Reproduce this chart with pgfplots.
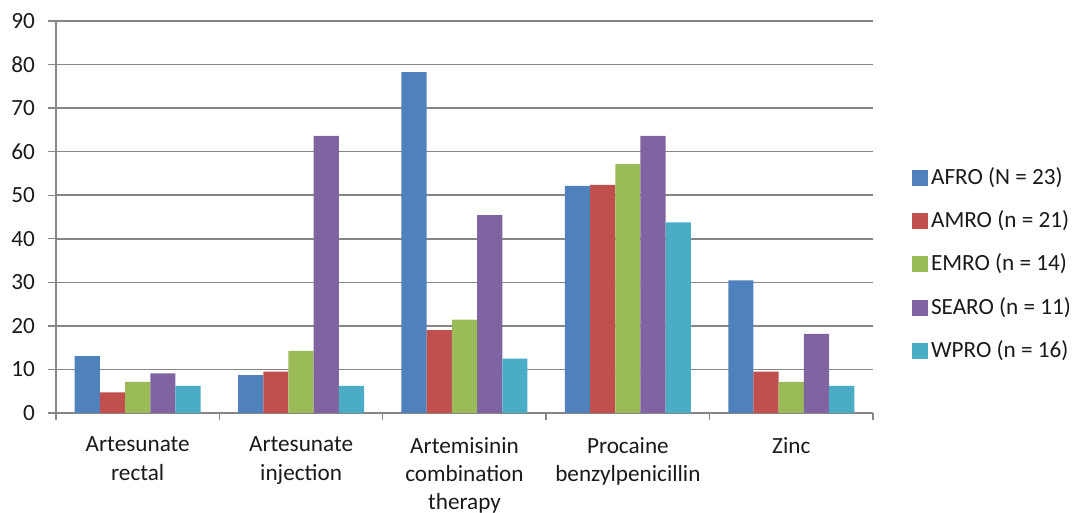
\documentclass[border=0pt]{standalone}
\usepackage{pgfplots}
\pgfplotsset{compat=1.18}
\usepackage{fontspec}
\setmainfont{Carlito}

\definecolor{afro}{HTML}{4F81BD}
\definecolor{amro}{HTML}{C0504D}
\definecolor{emro}{HTML}{9BBB59}
\definecolor{searo}{HTML}{8064A2}
\definecolor{wpro}{HTML}{4BACC6}
\definecolor{axisgray}{HTML}{868686}
\definecolor{txt}{HTML}{1A1A1A}

\begin{document}
\begin{tikzpicture}
\path[use as bounding box] (-28pt,-50pt) rectangle (510pt,206.5pt);
\begin{axis}[
  at={(0,0)}, anchor=south west,
  scale only axis, width=408.5pt, height=196pt,
  ymin=0, ymax=90, ytick={0,10,...,90},
  xmin=-0.5, xmax=4.5,
  xtick={0,...,4},
  xticklabels={{Artesunate\\rectal},{Artesunate\\injection},{Artemisinin\\combination\\therapy},{Procaine\\benzylpenicillin},{Zinc}},
  minor xtick={-0.5,0.5,...,4.5},
  major x tick style={draw=none},
  minor x tick style={axisgray, line width=0.7pt},
  minor tick length=3.3pt,
  major tick length=4pt,
  y tick style={axisgray, line width=0.7pt},
  tick align=outside,
  axis x line*=bottom, axis y line*=left,
  axis line style={axisgray, line width=0.7pt},
  ymajorgrids, grid style={axisgray, line width=0.75pt},
  /pgf/number format/assume math mode=true,
  tick label style={font=\fontsize{11.6}{14.2}\selectfont, text=txt},
  xticklabel style={align=center, yshift=-4.5pt},
  yticklabel style={xshift=-3pt},
  ybar=0pt, bar width=12.6pt,
  legend style={at={(1.040,0.378)}, anchor=west, draw=none,
    font=\fontsize{11.6}{14.5}\selectfont, text=txt,
    nodes={inner sep=0pt, text height=8.5pt, text depth=2.5pt},
    row sep=10.7pt, column sep=1.5pt},
  legend cell align=left,
  legend image code/.code={\fill[#1,draw=none] (0pt,-3.75pt) rectangle (8pt,4.25pt);},
]
\addplot[fill=afro, draw=none] coordinates {(0,13.04) (1,8.70) (2,78.26) (3,52.17) (4,30.43)};
\addplot[fill=amro, draw=none] coordinates {(0,4.76) (1,9.52) (2,19.05) (3,52.38) (4,9.52)};
\addplot[fill=emro, draw=none] coordinates {(0,7.14) (1,14.29) (2,21.43) (3,57.14) (4,7.14)};
\addplot[fill=searo, draw=none] coordinates {(0,9.09) (1,63.64) (2,45.45) (3,63.64) (4,18.18)};
\addplot[fill=wpro, draw=none] coordinates {(0,6.25) (1,6.25) (2,12.50) (3,43.75) (4,6.25)};
\legend{AFRO (N = 23), AMRO (n = 21), EMRO (n = 14), SEARO (n = 11), WPRO (n = 16)}
\end{axis}
\end{tikzpicture}
\end{document}
